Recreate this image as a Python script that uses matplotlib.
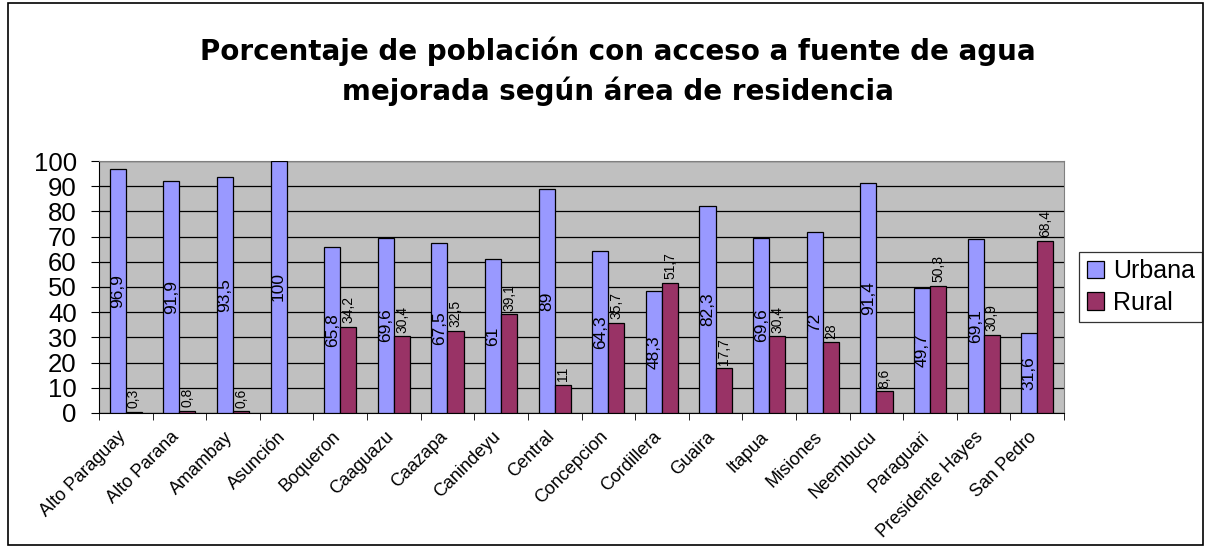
import matplotlib

matplotlib.use("Agg")
import matplotlib.pyplot as plt
import matplotlib.transforms as mtransforms
import numpy as np
from matplotlib.patches import Rectangle

plt.rcParams["font.family"] = ["Liberation Sans", "DejaVu Sans"]

DEPARTAMENTOS = [
    "Alto Paraguay", "Alto Parana", "Amambay", "Asunción", "Boqueron",
    "Caaguazu", "Caazapa", "Canindeyu", "Central", "Concepcion",
    "Cordillera", "Guaira", "Itapua", "Misiones", "Neembucu",
    "Paraguari", "Presidente Hayes", "San Pedro",
]
URBANA = [96.9, 91.9, 93.5, 100, 65.8, 69.6, 67.5, 61, 89, 64.3,
          48.3, 82.3, 69.6, 72, 91.4, 49.7, 69.1, 31.6]
RURAL = [0.3, 0.8, 0.6, np.nan, 34.2, 30.4, 32.5, 39.1, 11, 35.7,
         51.7, 17.7, 30.4, 28, 8.6, 50.3, 30.9, 68.4]

C_URB = "#9999FF"
C_RUR = "#993366"


def fmt(v: float) -> str:
    return f"{v:g}".replace(".", ",")


fig = plt.figure(figsize=(12.07, 5.48), dpi=100)
ax = fig.add_axes([0.082, 0.2464, 0.7996, 0.4598])
ax.set_facecolor("#C0C0C0")

x = np.arange(len(DEPARTAMENTOS))
w = 0.3
urb = np.array(URBANA, dtype=float)
rur = np.array(RURAL, dtype=float)
b1 = ax.bar(x - w / 2, urb, w, color=C_URB, edgecolor="black", linewidth=0.9, label="Urbana", zorder=3)
b2 = ax.bar(x + w / 2, np.nan_to_num(rur), w, color=C_RUR, edgecolor="black", linewidth=0.9, label="Rural", zorder=3)
for rect, v in zip(b2, rur):
    if np.isnan(v):
        rect.set_visible(False)

for xi, v in zip(x, urb):
    ax.text(xi - w / 2, v / 2, fmt(v), rotation=90, ha="center", va="center", fontsize=12.5, zorder=4)
for xi, v in zip(x, rur):
    if np.isnan(v):
        continue
    ax.text(xi + w / 2, v + 1.5, fmt(v), rotation=90, ha="center", va="bottom", fontsize=10, zorder=4)

ax.set_xlim(-0.5, len(DEPARTAMENTOS) - 0.5)
ax.set_ylim(0, 100)
ax.set_yticks(np.arange(0, 101, 10))
ax.yaxis.grid(True, color="black", linewidth=0.9, zorder=1)
ax.set_axisbelow(True)
ax.tick_params(axis="y", labelsize=18.5, length=6, direction="out", pad=10)

ax.set_xticks(x)
ax.set_xticklabels(DEPARTAMENTOS, rotation=45, ha="right", va="top", rotation_mode="anchor", fontsize=13)
ax.tick_params(axis="x", which="major", length=0, pad=11)
shift = mtransforms.ScaledTranslation(-9 / 100, 0, fig.dpi_scale_trans)
for lbl in ax.get_xticklabels():
    lbl.set_transform(lbl.get_transform() + shift)
ax.set_xticks(np.arange(-0.5, len(DEPARTAMENTOS), 1), minor=True)
ax.tick_params(axis="x", which="minor", length=5, direction="out")

for side in ("top", "right"):
    ax.spines[side].set_color("#808080")
for side in ("left", "bottom"):
    ax.spines[side].set_color("black")

fig.text(0.512, 0.87, "Porcentaje de población con acceso a fuente de agua\nmejorada según área de residencia",
         ha="center", va="center", fontsize=20, fontweight="bold", linespacing=1.45,
         family=["DejaVu Sans"])

leg = fig.legend(handles=[b1, b2], loc="center left", bbox_to_anchor=(1079 / 1207, 1 - 287 / 548),
                 borderaxespad=0, fontsize=18, frameon=True, fancybox=False, edgecolor="black",
                 handlelength=0.7, handleheight=0.7, handletextpad=0.35, borderpad=0.3, labelspacing=0.3)
leg.get_frame().set_linewidth(0.9)

fig.patches.append(Rectangle((8 / 1207, 3 / 548), 1195 / 1207, 542 / 548, transform=fig.transFigure,
                             fill=False, edgecolor="black", linewidth=1.2))

fig.savefig("out.png", dpi=100)
